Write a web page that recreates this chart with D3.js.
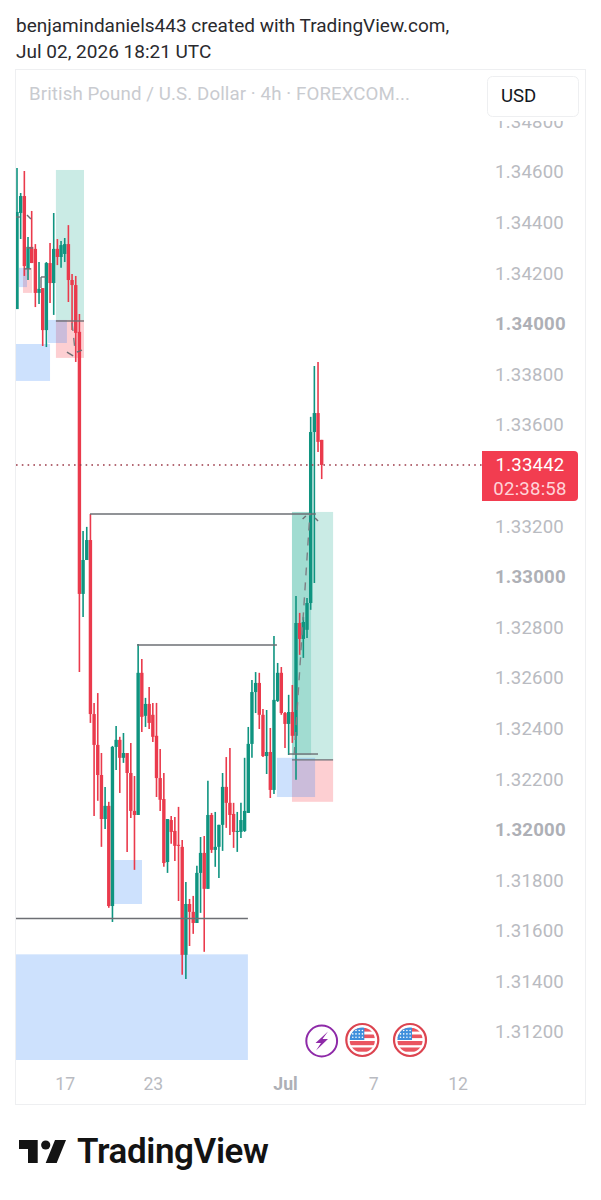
<!DOCTYPE html>
<html><head><meta charset="utf-8">
<style>html,body{margin:0;padding:0;background:#fff}svg{display:block}text{font-family:Roboto,sans-serif}</style>
<script src="https://cdn.jsdelivr.net/npm/d3@7/dist/d3.min.js"></script>
</head><body><svg id="c" width="601" height="1200"></svg>
<script>
const opens=[1.34058,1.34438,1.34505,1.34217,1.34304,1.34296,1.34122,1.34141,1.33975,1.34240,1.34161,1.34296,1.34264,1.34276,1.34315,1.34173,1.34153,1.33968,1.32932,1.33066,1.33145,1.32457,1.32335,1.32216,1.32042,1.32094,1.31698,1.32327,1.32355,1.32284,1.32303,1.32224,1.32074,1.32058,1.32620,1.32450,1.32497,1.32454,1.32371,1.32204,1.32121,1.31872,1.32038,1.31995,1.31940,1.31932,1.31505,1.31706,1.31675,1.31631,1.31829,1.31908,1.31766,1.32058,1.31920,1.31932,1.32019,1.32169,1.32106,1.32062,1.31991,1.31991,1.31995,1.32066,1.32339,1.32544,1.32580,1.32454,1.32291,1.32307,1.32157,1.32509,1.32620,1.32461,1.32418,1.32465,1.32371,1.32817,1.32754,1.32790,1.32896,1.33572,1.33647,1.33541];
const highs=[1.34616,1.34517,1.34604,1.34343,1.34446,1.34315,1.34244,1.34141,1.34244,1.34319,1.34438,1.34335,1.34327,1.34339,1.34390,1.34197,1.34189,1.34039,1.33181,1.33197,1.33248,1.32501,1.32540,1.32303,1.32169,1.32110,1.32331,1.32410,1.32367,1.32382,1.32303,1.32343,1.32212,1.32734,1.32675,1.32521,1.32564,1.32501,1.32501,1.32319,1.32224,1.32042,1.32054,1.32050,1.32090,1.31959,1.31793,1.31726,1.31738,1.31857,1.31971,1.31975,1.32193,1.32066,1.32070,1.32019,1.32224,1.32287,1.32323,1.32106,1.32070,1.32106,1.32284,1.32406,1.32592,1.32623,1.32620,1.32477,1.32473,1.32402,1.32766,1.32659,1.32643,1.32465,1.32533,1.32572,1.32924,1.32857,1.32841,1.32916,1.33632,1.33833,1.33849,1.33541];
const lows=[1.34058,1.34335,1.34189,1.34173,1.34240,1.34066,1.34078,1.33912,1.33908,1.34082,1.34035,1.34232,1.34221,1.34244,1.34086,1.33975,1.33849,1.32623,1.32841,1.33066,1.32422,1.32054,1.32114,1.31932,1.32003,1.31691,1.31635,1.32236,1.32145,1.32264,1.31912,1.32046,1.31841,1.32058,1.32386,1.32406,1.32398,1.32347,1.32129,1.32074,1.31853,1.31829,1.31944,1.31876,1.31718,1.31426,1.31410,1.31540,1.31588,1.31631,1.31671,1.31517,1.31766,1.31908,1.31853,1.31809,1.31916,1.32007,1.31979,1.31928,1.31912,1.31967,1.31991,1.32066,1.32284,1.32461,1.32398,1.32287,1.32220,1.32125,1.32141,1.32505,1.32454,1.32323,1.32295,1.32343,1.32197,1.32691,1.32679,1.32758,1.32869,1.32975,1.33493,1.33386];
const closes=[1.34442,1.34505,1.34228,1.34304,1.34240,1.34122,1.34138,1.33975,1.34240,1.34161,1.34296,1.34264,1.34311,1.34315,1.34173,1.34153,1.33964,1.32932,1.33066,1.33145,1.32457,1.32335,1.32216,1.32042,1.32094,1.31698,1.32327,1.32355,1.32284,1.32303,1.32224,1.32074,1.32058,1.32620,1.32446,1.32497,1.32422,1.32367,1.32204,1.32118,1.31868,1.32042,1.31991,1.31936,1.31936,1.31505,1.31706,1.31675,1.31631,1.31829,1.31908,1.31766,1.32058,1.31920,1.31932,1.32019,1.32169,1.32106,1.32058,1.31991,1.31995,1.32038,1.32074,1.32339,1.32544,1.32580,1.32454,1.32291,1.32307,1.32157,1.32513,1.32620,1.32461,1.32418,1.32465,1.32371,1.32817,1.32754,1.32821,1.32896,1.33572,1.33647,1.33533,1.33442];

const priceTicks=[1.348,1.346,1.344,1.342,1.340,1.338,1.336,1.332,1.330,1.328,1.326,1.324,1.322,1.320,1.318,1.316,1.314,1.312];
const boldPriceTicks=[1.340,1.330,1.320];
const dateTickIndex=[13,37,73,97,120];
const dateTickLabels=["17","23","Jul","7","12"];

const zoneGreen=[[10.6,18.25,1.34608,1.34015],[74.9,86.1,1.33256,1.32276],[74.9,80.1,1.33256,1.32295]];
const zoneRed=[[10.6,18.25,1.34015,1.33865],[1.63,4.09,1.34221,1.34122],[74.9,86.1,1.32276,1.32110]];
const zoneBlue=[[-0.27,9,1.33920,1.33774],[8.44,13.6,1.34015,1.33924],[0.54,2.72,1.34221,1.34145],[26.4,34.05,1.31880,1.31706],[-0.27,62.9,1.31507,1.31088],[70.8,81.2,1.32284,1.32129]];
const trendLines=[[-0.27,1.31649,62.9,1.31649],[19.9,1.33248,81.4,1.33248],[32.7,1.32730,70.8,1.32730],[74,1.32299,82,1.32299],[74.9,1.32276,86.1,1.32276],[10.6,1.34011,18.25,1.34011],[1.9,1.34217,3.8,1.34217],[-0.27,1.34422,0.8,1.34422],[2.72,1.34430,3.8,1.34414],[6.54,1.34185,7.9,1.34185],[6.54,1.34185,6.54,1.34141],[2.72,1.34300,4.36,1.34300],[13.6,1.33888,15.3,1.33873],[17.7,1.33896,16.3,1.33888],[77.8,1.33228,78.7,1.33240],[81.2,1.33232,82,1.33220]];
const dashedLines=[[75.5,1.32295,79.8,1.33252],[15,1.34003,15.8,1.33896]];
const lastPrice=1.33442, countdown="02:38:58";

const GREEN="#0f9480", RED="#ea3a4c";
const svg=d3.select("#c");
const x=d3.scaleLinear().domain([0,83]).range([17,321.7]);
const y=d3.scaleLinear().domain([1.346,1.312]).range([172,1032]);
const fmt=d3.format(".5f");

// header
svg.append("text").attr("x",16).attr("y",32).attr("font-size",19).attr("fill","#2a2a2e").text("benjamindaniels443 created with TradingView.com,");
svg.append("text").attr("x",16).attr("y",58).attr("font-size",19).attr("fill","#2a2a2e").text("Jul 02, 2026 18:21 UTC");

// frame
svg.append("rect").attr("x",15.5).attr("y",69.5).attr("width",570).attr("height",1035).attr("fill","#fff").attr("stroke","#eeeff1");

const defs=svg.append("defs");
defs.append("clipPath").attr("id","plot").append("rect").attr("x",16).attr("y",70).attr("width",469).attr("height",990);
defs.append("clipPath").attr("id","axisClip").append("rect").attr("x",482).attr("y",121).attr("width",103).attr("height",940);
const plot=svg.append("g").attr("clip-path","url(#plot)");

function zones(data,fill,op){
  plot.append("g").selectAll("rect").data(data).join("rect")
    .attr("x",d=>x(d[0])).attr("width",d=>x(d[1])-x(d[0]))
    .attr("y",d=>y(d[2])).attr("height",d=>y(d[3])-y(d[2]))
    .attr("fill",fill).attr("fill-opacity",op);
}
zones(zoneRed,"#f7525f",0.28);
zones(zoneGreen,"#22ab94",0.24);
zones(zoneBlue,"#2f80f5",0.24);

// candles
const idx=d3.range(opens.length);
const cg=plot.append("g");
cg.selectAll("line.w").data(idx).join("line").attr("class","w")
  .attr("x1",x).attr("x2",x).attr("y1",i=>y(highs[i])).attr("y2",i=>y(lows[i]))
  .attr("stroke",i=>closes[i]>=opens[i]?GREEN:RED).attr("stroke-width",1.6);
cg.selectAll("rect.b").data(idx).join("rect").attr("class","b")
  .attr("x",i=>x(i)-1.7).attr("width",3.4)
  .attr("y",i=>y(Math.max(opens[i],closes[i])))
  .attr("height",i=>Math.max(1,Math.abs(y(opens[i])-y(closes[i]))))
  .attr("fill",i=>closes[i]>=opens[i]?GREEN:RED);

// drawings
plot.append("g").selectAll("line").data(trendLines).join("line")
  .attr("x1",d=>x(d[0])).attr("y1",d=>y(d[1])).attr("x2",d=>x(d[2])).attr("y2",d=>y(d[3]))
  .attr("stroke","#6d6f74").attr("stroke-width",1.4);
plot.append("g").selectAll("line").data(dashedLines).join("line")
  .attr("x1",d=>x(d[0])).attr("y1",d=>y(d[1])).attr("x2",d=>x(d[2])).attr("y2",d=>y(d[3]))
  .attr("stroke","#7d7f84").attr("stroke-width",1.4).attr("stroke-dasharray","8 7");

// last price line
plot.append("line").attr("x1",16).attr("x2",482).attr("y1",y(lastPrice)).attr("y2",y(lastPrice))
  .attr("stroke","#9c3a48").attr("stroke-width",1.5).attr("stroke-dasharray","1.6 4.2");

// price axis
const ya=svg.append("g").attr("clip-path","url(#axisClip)").append("g").attr("transform","translate(495,0)")
  .call(d3.axisRight(y).tickValues(priceTicks).tickSize(0).tickPadding(0).tickFormat(fmt));
ya.select(".domain").remove();
ya.selectAll("text").attr("font-size",18.6).attr("fill",d=>boldPriceTicks.includes(d)?"#aeb0b6":"#b9bbc1")
  .attr("font-weight",d=>boldPriceTicks.includes(d)?700:400).attr("font-family","Roboto, sans-serif").attr("letter-spacing",0.2);

// time axis
const xa=svg.append("g").attr("transform","translate(0,1077)")
  .call(d3.axisBottom(x).tickValues(dateTickIndex).tickSize(0).tickPadding(0).tickFormat((d,i)=>dateTickLabels[i]));
xa.select(".domain").remove();
xa.selectAll("text").attr("font-size",17.6).attr("fill",(d,i)=>dateTickLabels[i]==="Jul"?"#aeb0b6":"#b9bbc1")
  .attr("font-weight",(d,i)=>dateTickLabels[i]==="Jul"?700:400).attr("font-family","Roboto, sans-serif");

// title and USD box
svg.append("text").attr("x",29).attr("y",100).attr("font-size",18.7).attr("fill","#c9cbd0").attr("letter-spacing",0.1).text("British Pound / U.S. Dollar · 4h · FOREXCOM...");
svg.append("rect").attr("x",487.5).attr("y",76.5).attr("width",91).attr("height",40).attr("rx",5).attr("fill","#fff").attr("stroke","#eeeff1");
svg.append("text").attr("x",501).attr("y",102).attr("font-size",18.6).attr("fill","#131722").text("USD");

// price label
svg.append("path").attr("d","M482,451H574a4,4 0 0 1 4,4V497a4,4 0 0 1 -4,4H482Z").attr("fill","#f23d50");
svg.append("text").attr("x",530).attr("y",471).attr("text-anchor","middle").attr("font-size",18.6).attr("letter-spacing",0.2).attr("fill","#fff").text(fmt(lastPrice));
svg.append("text").attr("x",530).attr("y",495).attr("text-anchor","middle").attr("font-size",18.6).attr("letter-spacing",0.2).attr("fill","#ffd3d8").text(countdown);

// event icons
const ic=svg.append("g");
ic.append("circle").attr("cx",321.7).attr("cy",1041).attr("r",15.4).attr("fill","#fff").attr("stroke","#8e2aa8").attr("stroke-width",2);
ic.append("path").attr("d","M328,1031.5L315.5,1043H321L316,1050.5L328,1039H322.5Z").attr("fill","#8e2aa8");
[362.3,410].forEach((cx,n)=>{
  const g=ic.append("g").attr("transform",`translate(${cx},1040)`);
  defs.append("clipPath").attr("id","f"+n).append("circle").attr("r",12.6);
  g.append("circle").attr("r",16).attr("fill","#fff").attr("stroke","#dc4450").attr("stroke-width",2.2);
  const f=g.append("g").attr("clip-path",`url(#f${n})`);
  f.append("rect").attr("x",-14).attr("y",-14).attr("width",28).attr("height",28).attr("fill","#fff");
  [-9.5,-3,3.5,10].forEach(sy=>f.append("rect").attr("x",-14).attr("y",sy-2.5).attr("width",28).attr("height",sy<0?3.6:4.2).attr("fill","#ea5560"));
  f.append("rect").attr("x",-14).attr("y",-14).attr("width",16).attr("height",14).attr("fill","#3f8fdc");
  for(let r=0;r<3;r++)for(let c=0;c<4;c++)f.append("circle").attr("cx",-9.5+c*3.2).attr("cy",-9.5+r*3.4).attr("r",0.8).attr("fill","#fff");
});

// logo
svg.append("path").attr("d","M19,1140H37.7V1163H28V1149H19Z").attr("fill","#131313");
svg.append("circle").attr("cx",45.7).attr("cy",1145).attr("r",4.6).attr("fill","#131313");
svg.append("path").attr("d","M55,1140H66L56.7,1163H45.7Z").attr("fill","#131313");
svg.append("text").attr("x",77).attr("y",1163).attr("font-size",35).attr("font-weight",600).attr("font-family","Inter, Roboto, sans-serif").attr("letter-spacing",-0.4).attr("fill","#131313").text("TradingView");
</script></body></html>
